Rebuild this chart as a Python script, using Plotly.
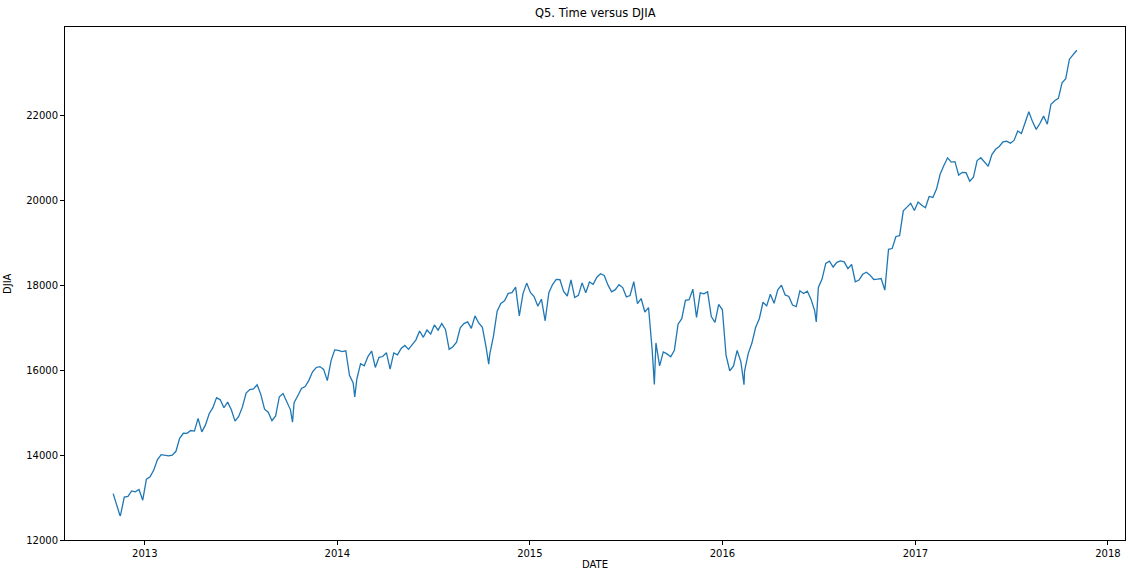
import pandas as pd
import plotly.graph_objects as go

# Weekly (Friday) DJIA closes, Nov 2012 - Nov 2017
start_friday = "2012-11-02"
weekly_close = [
    # 2012
    13093, 12815, 12588, 13010, 13026, 13155, 13135, 13190, 12938,
    # 2013
    13435, 13488, 13650, 13896, 14010, 13993, 13982, 14001, 14090, 14397, 14515, 14512, 14579,
    14565, 14865, 14547, 14712, 14974, 15118, 15354, 15303, 15116, 15248, 15070, 14800, 14910,
    15136, 15464, 15544, 15559, 15658, 15425, 15081, 15010, 14810, 14922, 15376, 15452, 15258,
    15073, 15237, 15400, 15570, 15615, 15762, 15962, 16065, 16086, 16020, 15755, 16221, 16479,
    # 2014
    16470, 16437, 16459, 15880, 15699, 15794, 16154, 16104, 16322, 16453, 16066, 16303, 16323,
    16413, 16027, 16409, 16361, 16513, 16584, 16492, 16606, 16717, 16925, 16776, 16948, 16852,
    17068, 16944, 17100, 16961, 16493, 16554, 16663, 17001, 17098, 17138, 16988, 17280, 17113,
    17009, 16544, 16380, 16805, 17391, 17573, 17635, 17810, 17828, 17959, 17281, 17805, 18053,
    # 2015
    17833, 17737, 17512, 17673, 17165, 17825, 18019, 18141, 18133, 17857, 17749, 18128, 17713,
    17763, 18058, 17827, 18080, 18025, 18191, 18273, 18232, 18011, 17849, 17899, 18016, 17947,
    17730, 17760, 18086, 17568, 17690, 17373, 17477, 16460, 16643, 16102, 16433, 16385, 16315,
    16472, 17084, 17216, 17647, 17664, 17910, 17245, 17824, 17799, 17848, 17265, 17128, 17552,
    17425,
    # 2016
    16347, 15988, 16094, 16466, 16205, 15974, 16392, 16640, 17007, 17213, 17602, 17516, 17793,
    17577, 17897, 18004, 17774, 17740, 17535, 17500, 17873, 17807, 17865, 17675, 17401, 17949,
    18147, 18516, 18571, 18432, 18543, 18576, 18553, 18395, 18492, 18085, 18124, 18261, 18308,
    18240, 18138, 18145, 18161, 17888, 18848, 18868, 19152, 19171, 19757, 19843, 19934, 19763,
    # 2017
    19964, 19886, 19827, 20094, 20071, 20269, 20624, 20822, 21005, 20903, 20915, 20597, 20663,
    20656, 20453, 20548, 20941, 21007, 20897, 20805, 21080, 21206, 21272, 21384, 21395, 21350,
    21414, 21638, 21580, 21830, 22092, 21858, 21675, 21814, 21988, 21798, 22268, 22350, 22405,
    22774, 22871, 23329, 23434, 23539,
]

# Notable daily extremes visible in the chart
extreme_dates = ["2012-11-15", "2013-10-08", "2014-02-03", "2014-10-15",
                 "2015-08-25", "2016-02-11", "2016-06-27"]
extreme_close = [12570, 14776, 15373, 16142, 15666, 15660, 17140]

title_text = "Q5. Time versus DJIA"
x_label = "DATE"
y_label = "DJIA"
y_ticks = [12000, 14000, 16000, 18000, 20000, 22000]
x_tick_years = ["2013", "2014", "2015", "2016", "2017", "2018"]

weekly_dates = pd.date_range(start_friday, periods=len(weekly_close), freq="W-FRI")
df = pd.concat([
    pd.DataFrame({"date": weekly_dates, "djia": weekly_close}),
    pd.DataFrame({"date": pd.to_datetime(extreme_dates), "djia": extreme_close}),
]).sort_values("date")

fig = go.Figure()
fig.add_trace(go.Scatter(
    x=df["date"], y=df["djia"], mode="lines",
    line=dict(color="#1f77b4", width=1.3),
    showlegend=False,
))

font = dict(family="DejaVu Sans", size=10, color="#000000")

# matplotlib-like 5% margins
d0, d1 = df["date"].min(), df["date"].max()
pad = (d1 - d0) * 0.05
ymin, ymax = min(df["djia"]), max(df["djia"])
ypad = (ymax - ymin) * 0.05

fig.update_layout(
    width=1126, height=569,
    margin=dict(l=65, r=1, t=27, b=29),
    paper_bgcolor="white", plot_bgcolor="white",
    font=font,
    xaxis=dict(
        range=[d0 - pad, d1 + pad],
        tickvals=[pd.Timestamp(f"{y}-01-01") for y in x_tick_years],
        ticktext=x_tick_years,
        showgrid=False, zeroline=False,
        showline=True, mirror=True, linecolor="black", linewidth=1,
        ticks="outside", ticklen=4, tickcolor="black", tickwidth=1,
        tickfont=font,
    ),
    yaxis=dict(
        range=[12000, ymax + ypad],
        tickvals=y_ticks,
        ticktext=[str(v) for v in y_ticks],
        showgrid=False, zeroline=False,
        showline=True, mirror=True, linecolor="black", linewidth=1,
        ticks="outside", ticklen=4, tickcolor="black", tickwidth=1,
        tickfont=font,
    ),
    annotations=[
        dict(text=title_text, xref="paper", yref="paper", x=0.5, y=1,
             xanchor="center", yanchor="bottom", yshift=5, showarrow=False,
             font=dict(family="DejaVu Sans", size=11.5, color="black")),
        dict(text=x_label, xref="paper", yref="paper", x=0.5, y=0,
             xanchor="center", yanchor="top", yshift=-17, showarrow=False,
             font=dict(family="DejaVu Sans", size=10, color="black")),
        dict(text=y_label, xref="paper", yref="paper", x=0, y=0.5,
             xanchor="right", yanchor="middle", xshift=-50, textangle=-90,
             showarrow=False,
             font=dict(family="DejaVu Sans", size=10, color="black")),
    ],
)

fig.write_html("out.html")
